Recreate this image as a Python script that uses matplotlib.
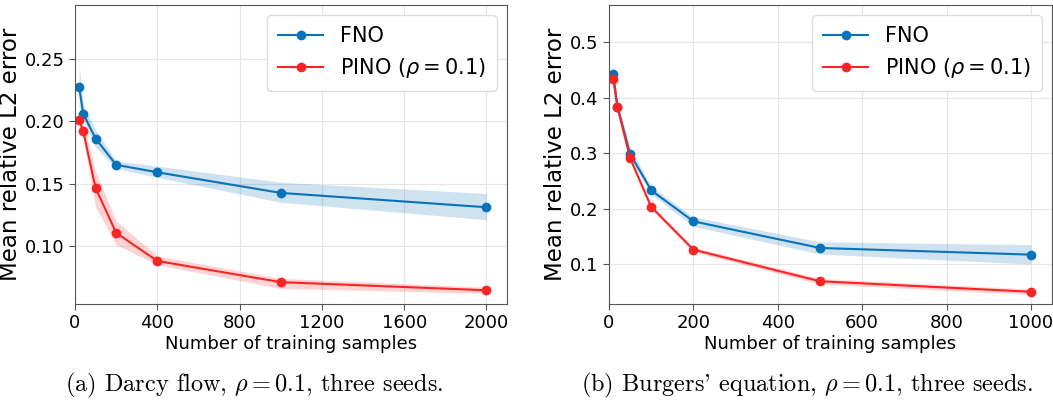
import numpy as np
import matplotlib
matplotlib.use('Agg')
import matplotlib.pyplot as plt

# DATOS - DARCY FLOW

n_darcy = [20, 40, 100, 200, 400, 1000, 2000]
fno_darcy = [0.2275, 0.206, 0.186, 0.165, 0.159, 0.1425, 0.131]
fno_darcy_lo = [0.212, 0.200, 0.179, 0.162, 0.155, 0.135, 0.121]
fno_darcy_hi = [0.245, 0.213, 0.193, 0.168, 0.164, 0.151, 0.142]
pino_darcy = [0.201, 0.192, 0.1465, 0.1105, 0.088, 0.071, 0.0645]
pino_darcy_lo = [0.197, 0.186, 0.131, 0.101, 0.085, 0.066, 0.062]
pino_darcy_hi = [0.205, 0.198, 0.160, 0.120, 0.092, 0.074, 0.067]

# DATOS - BURGERS

n_burg = [10, 20, 50, 100, 200, 500, 1000]
fno_burg = [0.442, 0.384, 0.2985, 0.233, 0.177, 0.129, 0.117]
fno_burg_lo = [0.430, 0.375, 0.290, 0.226, 0.168, 0.118, 0.100]
fno_burg_hi = [0.460, 0.395, 0.310, 0.240, 0.185, 0.140, 0.135]
pino_burg = [0.434, 0.383, 0.291, 0.203, 0.126, 0.069, 0.050]
pino_burg_lo = [0.428, 0.378, 0.286, 0.199, 0.122, 0.064, 0.045]
pino_burg_hi = [0.440, 0.388, 0.296, 0.207, 0.130, 0.074, 0.055]

azul = '#0a72b8'
rojo = '#fa2424'

fig = plt.figure(figsize=(10.53, 4.03), dpi=100)
ax1 = fig.add_axes([75/1053, 1 - 304/403, 432/1053, 299/403])
ax2 = fig.add_axes([609/1053, 1 - 304/403, 443/1053, 299/403])


def panel(ax, x, f, flo, fhi, p, plo, phi):
    ax.plot(x, f, '-o', color=azul, lw=1.5, ms=6, label='FNO')
    ax.fill_between(x, flo, fhi, color=azul, alpha=0.2, lw=0)
    ax.plot(x, p, '-o', color=rojo, lw=1.5, ms=6, label=r'PINO ($\rho=0.1$)')
    ax.fill_between(x, plo, phi, color=rojo, alpha=0.2, lw=0)
    ax.grid(True, color='#e6e6e6', lw=0.8)
    ax.set_axisbelow(True)
    for s in ax.spines.values():
        s.set_color('#555555')
    ax.tick_params(colors='#555555', labelcolor='black', labelsize=13, length=4)
    ax.set_ylabel('Mean relative L2 error', fontsize=16.5, labelpad=2)
    ax.set_xlabel('Number of training samples', fontsize=13, labelpad=2)
    ax.legend(loc='upper right', fontsize=15, framealpha=1, edgecolor='#dddddd',
              borderpad=0.5, handlelength=2.2)


panel(ax1, n_darcy, fno_darcy, fno_darcy_lo, fno_darcy_hi,
      pino_darcy, pino_darcy_lo, pino_darcy_hi)
ax1.set_xlim(0, 2100)
ax1.set_ylim(0.0535, 0.293)
ax1.set_xticks([0, 400, 800, 1200, 1600, 2000])
ax1.set_yticks([0.10, 0.15, 0.20, 0.25])

panel(ax2, n_burg, fno_burg, fno_burg_lo, fno_burg_hi,
      pino_burg, pino_burg_lo, pino_burg_hi)
ax2.set_xlim(0, 1050)
ax2.set_ylim(0.028, 0.567)
ax2.set_xticks([0, 200, 400, 600, 800, 1000])
ax2.set_yticks([0.1, 0.2, 0.3, 0.4, 0.5])

# PIES DE FIGURA

fig.text(254/1053, 1 - 385/403, r'(a) Darcy flow, $\rho = 0.1$, three seeds.',
         ha='center', va='center', fontsize=17.5, family='cmr10', math_fontfamily='cm')
fig.text(807/1053, 1 - 385/403, r"(b) Burgers' equation, $\rho = 0.1$, three seeds.",
         ha='center', va='center', fontsize=17.5, family='cmr10', math_fontfamily='cm')

fig.savefig('out.png', dpi=100)
